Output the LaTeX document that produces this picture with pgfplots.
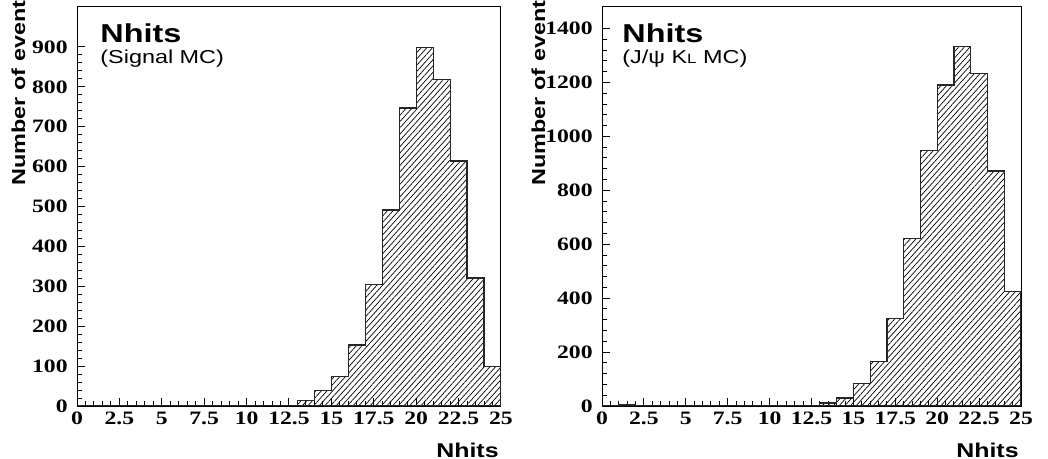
\documentclass[border=0pt]{standalone}
\usepackage{pgfplots}
\pgfplotsset{compat=1.18}
\usepackage{fontspec}
\setmainfont{Liberation Serif}[FakeStretch=1.25]
\newfontfamily\hv{Liberation Sans}[FakeStretch=1.25]
\usetikzlibrary{patterns.meta}

\pgfplotstableread{
x   n
0   0
1   0
2   0
3   0
4   0
5   0
6   0
7   0
8   0
9   0
10  0
11  0
12  2
13  13
14  38
15  74
16  153
17  304
18  491
19  747
20  899
21  818
22  614
23  321
24  99
25  99
}\signal

\pgfplotstableread{
x   n
0   0
1   4
2   3
3   0
4   0
5   0
6   0
7   0
8   0
9   0
10  0
11  0
12  2
13  11
14  30
15  83
16  164
17  326
18  620
19  949
20  1191
21  1332
22  1232
23  872
24  425
25  425
}\jpsikl

\pgfplotsset{
  hist/.style={
    scale only axis, width=212bp, height=199.5bp,
    xmin=0, xmax=25, ymin=0,
    xtick={0,2.5,...,25}, minor x tick num=4,
    minor y tick num=4,
    axis line style={line width=0.5bp},
    tick align=inside, xtick pos=bottom, ytick pos=left,
    major tick length=4bp, minor tick length=2.5bp,
    every tick/.style={black, line width=0.5bp},
    scaled ticks=false,
    /pgf/number format/assume math mode=true,
    /pgf/number format/1000 sep={},
    ticklabel style={font=\bfseries\fontsize{9.5}{10}\selectfont, inner sep=0pt},
    yticklabel style={xshift=-4.5bp},
    xticklabel style={yshift=-3bp},
  },
  histline/.style={black!85, line width=0.6bp, const plot,
    pattern={Lines[angle=48, distance=2.1bp, line width=0.35bp]}},
}

\begin{document}
\begin{tikzpicture}
\path[use as bounding box] (-38.5bp,-26.5bp) rectangle (485.5bp,203bp);

\begin{axis}[hist, at={(0,0)}, ymax=1000, ytick={0,100,...,900}]
  \addplot[histline] table[x=x, y=n] {\signal} \closedcycle;
\end{axis}

\begin{axis}[hist, at={(262.5bp,0)}, width=209.5bp, ymax=1480, ytick={0,200,...,1400}]
  \addplot[histline] table[x=x, y=n] {\jpsikl} \closedcycle;
\end{axis}

% titles
\coordinate (tl) at (11.5bp,181.5bp);
\coordinate (sl) at (11.5bp,171bp);
\coordinate (tr) at (272.5bp,181.5bp);
\coordinate (sr) at (272.5bp,171bp);
\node[anchor=base west, inner sep=0, font=\hv\bfseries\fontsize{13}{14}\selectfont] at (tl) {Nhits};
\node[anchor=base west, inner sep=0, font=\hv\fontsize{9.4}{10}\selectfont] at (sl) {(Signal MC)};
\node[anchor=base west, inner sep=0, font=\hv\bfseries\fontsize{13}{14}\selectfont] at (tr) {Nhits};
\node[anchor=base west, inner sep=0, font=\hv\fontsize{9.4}{10}\selectfont] at (sr) {(J/ψ K{\fontsize{6.8}{7}\selectfont L} MC)};

% axis labels
\coordinate (yl) at (-26bp,202.8bp);
\coordinate (yr) at (234bp,202.8bp);
\node[rotate=90, anchor=base east, inner sep=0, font=\hv\bfseries\fontsize{9.4}{10}\selectfont] at (yl) {Number of event};
\node[rotate=90, anchor=base east, inner sep=0, font=\hv\bfseries\fontsize{9.4}{10}\selectfont] at (yr) {Number of event};
\node[anchor=base east, inner sep=0, font=\hv\bfseries\fontsize{10}{11}\selectfont] at (211bp,-25.5bp) {Nhits};
\node[anchor=base east, inner sep=0, font=\hv\bfseries\fontsize{10}{11}\selectfont] at (471bp,-25.5bp) {Nhits};
\end{tikzpicture}
\end{document}
